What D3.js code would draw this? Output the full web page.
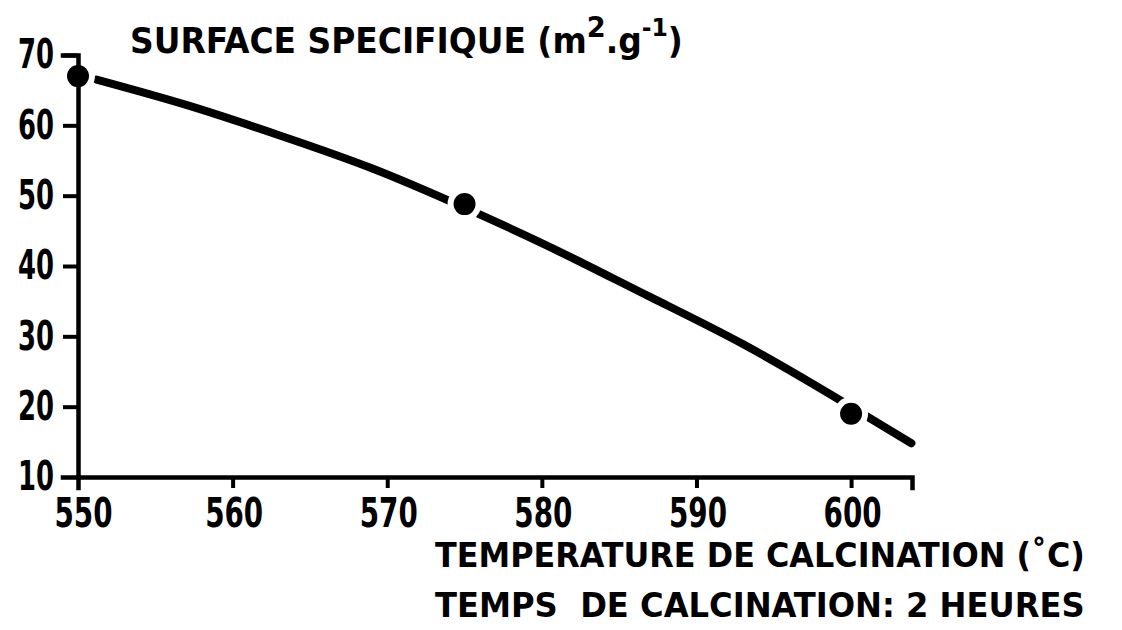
<!DOCTYPE html>
<html>
<head>
<meta charset="utf-8">
<script src="https://cdn.jsdelivr.net/npm/d3@7"></script>
<style>
  html, body { margin: 0; padding: 0; background: #fff; }
  svg { display: block; }
  text { font-family: "Liberation Sans Narrow", "DejaVu Sans Condensed", "Arial Narrow", sans-serif; fill: #000; }
</style>
</head>
<body>
<svg id="chart" width="1122" height="630"></svg>
<script>
// ---- data ----
const xTicks = [550, 560, 570, 580, 590, 600];
const yTicks = [10, 20, 30, 40, 50, 60, 70];
const measuredTemp = [550, 575, 600];
const measuredSurface = [67, 48.8, 19];
const curveTemp = [551.2, 557, 563, 569, 575, 581, 587, 593, 599, 603.9];
const curveSurface = [66.5, 62.9, 58.6, 53.9, 48.3, 42.2, 35.6, 28.9, 21.3, 14.8];
const yTitle = ["SURFACE SPECIFIQUE (m", "2", ".g", "-1", ")"];
const xTitle1 = "TEMPERATURE DE CALCINATION (˚C)";
const xTitle2 = "TEMPS  DE CALCINATION: 2 HEURES";

// ---- layout ----
const svg = d3.select("#chart");
const x = d3.scaleLinear().domain([550, 603.94]).range([78, 912]);
const y = d3.scaleLinear().domain([10, 70]).range([477, 55]);

// horizontally squeeze a text so it spans targetW, keeping its anchor point
function squeeze(sel, targetW, anchorX) {
  sel.each(function () {
    const node = this;
    const w = node.getBBox().width;
    const s = targetW / w;
    d3.select(node).attr("transform",
      `translate(${anchorX},0) scale(${s},1) translate(${-anchorX},0)`);
  });
}

const curvePts = curveTemp.map((t, i) => [t, curveSurface[i]]);
const line = d3.line().x(d => x(d[0])).y(d => y(d[1])).curve(d3.curveNatural);

svg.append("path")
  .datum(curvePts)
  .attr("d", line)
  .attr("fill", "none")
  .attr("stroke", "#000")
  .attr("stroke-width", 8)
  .attr("stroke-linecap", "round");

const pts = measuredTemp.map((t, i) => [t, measuredSurface[i]]);
// white halos to create gaps in the curve around the dots
svg.append("g").selectAll("circle").data(pts).join("circle")
  .attr("cx", d => x(d[0])).attr("cy", d => y(d[1]))
  .attr("r", 17).attr("fill", "#fff");

// axes
const xAxis = d3.axisBottom(x).tickValues(xTicks).tickSizeOuter(0).tickSize(11).tickPadding(9);
const gx = svg.append("g").attr("transform", `translate(0,${y(10)})`).call(xAxis);
gx.select(".domain").attr("stroke-width", 4.5).attr("stroke", "#000");
gx.selectAll(".tick line").attr("stroke-width", 4).attr("stroke", "#000")
  .attr("display", d => d === 550 ? "none" : null);
gx.selectAll(".tick text").attr("font-size", 41).attr("fill", "#000")
  .attr("font-family", null).attr("font-weight", 600).attr("dy", "0.72em")
  .attr("x", d => d === 550 ? 5 : 1);
gx.selectAll(".tick text").each(function (d) {
  const ax = d === 550 ? 5 : 1;
  squeeze(d3.select(this), 58, ax);
});

const yAxis = d3.axisLeft(y).tickValues(yTicks).tickSizeOuter(0).tickSize(15).tickPadding(9);
const gy = svg.append("g").attr("transform", `translate(${x(550)},0)`).call(yAxis);
gy.select(".domain").attr("stroke-width", 4.5).attr("stroke", "#000");
gy.selectAll(".tick line").attr("stroke-width", 4).attr("stroke", "#000")
  .attr("display", d => d === 10 ? "none" : null);
gy.selectAll(".tick text").attr("font-size", 40).attr("fill", "#000")
  .attr("font-family", null).attr("font-weight", 600).attr("x", -24);
{
  const ref = gy.selectAll(".tick text").filter(d => d === 70).node();
  const s = 36 / ref.getBBox().width;
  gy.selectAll(".tick text").attr("transform", `translate(-24,0) scale(${s},1) translate(24,0)`);
}
svg.selectAll(".domain").attr("stroke-linecap", "square");

// dots
svg.append("g").selectAll("circle").data(pts).join("circle")
  .attr("cx", d => x(d[0])).attr("cy", d => y(d[1]))
  .attr("r", 11).attr("fill", "#000");

// titles
const t = svg.append("text").attr("x", 130).attr("y", 53).attr("font-size", 35).attr("font-weight", 600);
t.append("tspan").text(yTitle[0]);
t.append("tspan").attr("dy", -16).attr("font-size", 29).text(yTitle[1]);
t.append("tspan").attr("dy", 16).text(yTitle[2]);
t.append("tspan").attr("dy", -17).attr("font-size", 25).text(yTitle[3]);
t.append("tspan").attr("dy", 17).text(yTitle[4]);
squeeze(t, 553, 130);

const x1 = svg.append("text").attr("x", 435).attr("y", 567).attr("font-size", 33).attr("font-weight", 600).text(xTitle1);
squeeze(x1, 650, 435);
const x2 = svg.append("text").attr("x", 435).attr("y", 617).attr("font-size", 33).attr("font-weight", 600)
  .style("white-space", "pre").text(xTitle2);
squeeze(x2, 650, 435);
</script>
</body>
</html>
